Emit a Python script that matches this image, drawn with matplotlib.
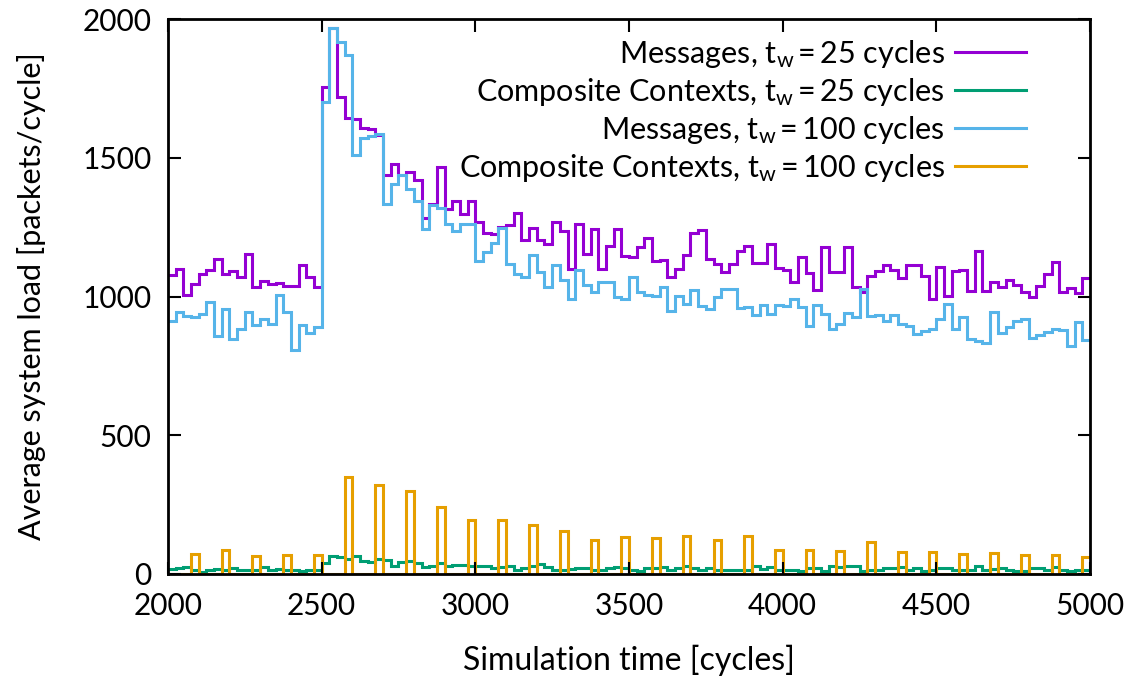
import numpy as np
import matplotlib
matplotlib.use('Agg')
import matplotlib.pyplot as plt

plt.rcParams['font.family'] = ['Lato', 'DejaVu Sans']
plt.rcParams['mathtext.fontset'] = 'custom'
plt.rcParams['mathtext.rm'] = 'Lato'
plt.rcParams['mathtext.it'] = 'Lato'

# bin edges of the 25-cycle sampling windows
bin_edges = np.arange(2000, 5001, 25)

# Messages, t_w = 25 cycles
msg_25 = [1077, 1101, 1005, 1047, 1081, 1095, 1135, 1083, 1093, 1069,
          1155, 1035, 1057, 1045, 1048, 1038, 1038, 1114, 1072, 1033,
          1755, 1968, 1720, 1645, 1640, 1607, 1604, 1583, 1437, 1478,
          1440, 1449, 1422, 1284, 1334, 1466, 1314, 1344, 1298, 1344,
          1270, 1230, 1226, 1250, 1258, 1302, 1203, 1246, 1203, 1191,
          1270, 1236, 1099, 1260, 1153, 1242, 1099, 1182, 1242, 1146,
          1143, 1179, 1212, 1128, 1133, 1069, 1099, 1150, 1230, 1239,
          1137, 1117, 1087, 1119, 1164, 1182, 1122, 1121, 1188, 1102,
          1097, 1051, 1143, 1085, 1023, 1180, 1090, 1087, 1179, 1035,
          1018, 1075, 1093, 1113, 1095, 1066, 1113, 1113, 1075, 991,
          1107, 1003, 1093, 1095, 1021, 1164, 1021, 1051, 1035, 1059,
          1042, 1015, 999, 1038, 1081, 1125, 1015, 1031, 1013, 1066]

# Composite Contexts, t_w = 25 cycles
ctx_25 = [19, 22, 24, 16, 8, 14, 19, 16, 21, 16,
          13, 16, 24, 16, 19, 16, 13, 10, 13, 16,
          38, 66, 62, 55, 64, 46, 44, 55, 50, 30,
          42, 45, 38, 24, 30, 40, 30, 33, 33, 30,
          27, 30, 22, 25, 27, 14, 21, 30, 35, 25,
          16, 14, 19, 22, 22, 16, 14, 22, 25, 22,
          16, 10, 22, 22, 24, 16, 22, 30, 20, 14,
          22, 16, 16, 13, 16, 14, 30, 19, 25, 16,
          16, 13, 10, 22, 22, 10, 30, 25, 27, 27,
          10, 13, 13, 20, 21, 25, 16, 21, 10, 16,
          21, 21, 13, 13, 16, 30, 13, 19, 21, 14,
          10, 10, 21, 21, 13, 25, 13, 10, 13, 16]

# Messages, t_w = 100 cycles
msg_100 = [913, 943, 931, 925, 937, 979, 859, 955, 847, 883,
           945, 899, 919, 901, 1006, 943, 808, 899, 868, 892,
           1703, 1968, 1918, 1870, 1511, 1571, 1580, 1585, 1334, 1407,
           1437, 1389, 1346, 1242, 1329, 1320, 1260, 1236, 1260, 1262,
           1128, 1162, 1194, 1246, 1117, 1081, 1069, 1150, 1090, 1035,
           1114, 1059, 990, 1095, 1042, 1015, 1051, 1051, 999, 991,
           1069, 1018, 1006, 1001, 1033, 949, 1003, 973, 1023, 967,
           957, 997, 1026, 1028, 959, 961, 932, 970, 939, 971,
           966, 992, 963, 894, 971, 937, 883, 901, 941, 928,
           1029, 931, 935, 911, 935, 901, 895, 865, 877, 883,
           919, 973, 883, 925, 847, 839, 832, 945, 869, 889,
           911, 919, 851, 863, 871, 883, 880, 823, 910, 844]

# Composite Contexts, t_w = 100 cycles (one window every 100 cycles)
ctx_100_peaks = [72, 88, 64, 69, 70, 349, 321, 298, 240, 193,
                 194, 178, 156, 121, 133, 131, 138, 121, 137, 85,
                 88, 84, 114, 78, 78, 71, 75, 69, 70, 62]
ctx_100 = np.zeros(len(msg_25))
ctx_100[3::4] = ctx_100_peaks

labels = [r'Messages, t$_\mathrm{w}$$\,$=$\,$25 cycles',
          r'Composite Contexts, t$_\mathrm{w}$$\,$=$\,$25 cycles',
          r'Messages, t$_\mathrm{w}$$\,$=$\,$100 cycles',
          r'Composite Contexts, t$_\mathrm{w}$$\,$=$\,$100 cycles']
colors = ['#9400d3', '#009e73', '#56b4e9', '#e69f00']

fig = plt.figure(figsize=(11.45, 6.86), dpi=100)
ax = fig.add_axes([0.1467, 0.1633, 0.8053, 0.8087])

for vals, lab, col in zip([msg_25, ctx_25, msg_100, ctx_100], labels, colors):
    ax.stairs(vals, bin_edges, baseline=None, color=col, linewidth=2.2, label=lab)

ax.set_xlim(2000, 5000)
ax.set_ylim(0, 2000)
ax.set_xticks(np.arange(2000, 5001, 500))
ax.set_yticks(np.arange(0, 2001, 500))
ax.tick_params(direction='in', length=9, width=1.5, top=True, right=True,
               labelsize=21.5)
ax.tick_params(axis='x', pad=13)
ax.tick_params(axis='y', pad=12)
for s in ax.spines.values():
    s.set_linewidth(2)

ax.set_xlabel('Simulation time [cycles]', fontsize=23, labelpad=18)
ax.set_ylabel('Average system load [packets/cycle]', fontsize=22, labelpad=26)

ax.legend(loc='upper right', markerfirst=False, frameon=False, fontsize=22,
          handlelength=2.3, labelspacing=0.2, handletextpad=0.35,
          bbox_to_anchor=(0.95, 1.0), borderaxespad=0.2)

fig.savefig('out.png', dpi=100)
